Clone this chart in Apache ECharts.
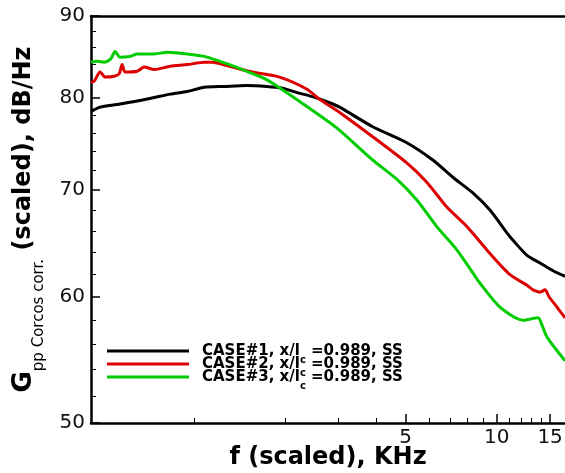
<!DOCTYPE html>
<html>
<head>
<meta charset="utf-8">
<script src="https://cdn.jsdelivr.net/npm/echarts@6/dist/echarts.min.js"></script>
<style>
  html, body { margin: 0; padding: 0; background: #fff; }
  #chart { width: 565px; height: 473px; }
</style>
</head>
<body>
<div id="chart"></div>
<script>
// spectra, f in KHz, level in dB/Hz
var fCase1 = [0.456, 0.489, 0.556, 0.648, 0.738, 0.834, 0.949, 1.08, 1.258, 1.488, 1.733, 1.957, 2.178, 2.461, 2.801, 3.023, 3.889, 5.04, 6.144, 7.156, 8.333, 9.49, 10.8, 11.31, 12.58, 13.89, 15.34, 16.81];
var dbCase1 = [78.4, 78.9, 79.2, 79.6, 80.0, 80.4, 80.7, 81.2, 81.3, 81.4, 81.3, 81.1, 80.6, 80.1, 79.4, 78.9, 76.7, 74.95, 73.1, 71.3, 69.7, 68.0, 65.8, 65.1, 63.7, 63.0, 62.3, 61.8];

var fCase2 = [0.456, 0.467, 0.489, 0.508, 0.544, 0.565, 0.578, 0.591, 0.648, 0.684, 0.738, 0.834, 0.949, 1.08, 1.148, 1.307, 1.557, 1.913, 2.351, 2.596, 3.023, 3.889, 5.04, 5.869, 6.837, 7.962, 9.27, 11.0, 12.58, 13.17, 13.89, 14.43, 14.88, 15.81, 16.81];
var dbCase2 = [81.8, 81.9, 83.0, 82.4, 82.5, 82.8, 83.9, 83.0, 83.1, 83.6, 83.3, 83.7, 83.9, 84.2, 84.2, 83.7, 83.0, 82.4, 81.0, 79.8, 78.3, 75.6, 72.8, 70.8, 68.3, 66.4, 64.2, 62.0, 61.0, 60.6, 60.4, 60.6, 60.0, 59.1, 58.2];

var fCase3 = [0.456, 0.478, 0.504, 0.53, 0.548, 0.569, 0.614, 0.648, 0.738, 0.815, 0.949, 1.08, 1.148, 1.307, 1.488, 1.733, 2.018, 2.351, 2.95, 3.889, 4.67, 5.44, 6.334, 7.377, 8.333, 8.79, 10.24, 12.2, 13.68, 14.1, 14.65, 16.81];
var dbCase3 = [84.2, 84.3, 84.2, 84.6, 85.5, 84.8, 84.9, 85.2, 85.2, 85.4, 85.2, 84.9, 84.6, 83.9, 83.1, 82.1, 80.6, 79.0, 76.6, 73.1, 71.1, 69.0, 66.4, 64.2, 62.1, 61.2, 59.1, 58.0, 58.2, 57.6, 56.6, 54.7];

var seriesNames = ['CASE#1', 'CASE#2', 'CASE#3'];
var seriesColors = ['#000000', '#dd0000', '#00cc00'];

var xRange = [0.456, 16.8];
var yRange = [50, 90];
var xMajorTicks = [5, 10, 15];
var xMinorTicks = [1, 2, 3, 4, 6, 7, 8, 9, 11, 12, 13, 14];
var yMajorTicks = [50, 60, 70, 80, 90];
var yMinorTicks = [52, 54, 56, 58, 62, 64, 66, 68, 72, 74, 76, 78, 82, 84, 86, 88];

function lg(v) { return Math.log10(v); }
function unlg(v) { return String(Math.round(Math.pow(10, v))); }
function pairs(fs, dbs) {
  return fs.map(function (f, i) { return [lg(f), lg(dbs[i])]; });
}

var chart = echarts.init(document.getElementById('chart'));

var labelFont = { fontFamily: 'DejaVu Sans', fontSize: 20, color: '#111' };
var titleFont = { fontFamily: 'DejaVu Sans', fontWeight: 'bold', fontSize: 24, color: '#000' };
var legendFont = { fontFamily: 'DejaVu Sans', fontWeight: 'bold', fontSize: 15, lineHeight: 13, color: '#000', verticalAlign: 'middle' };

var option = {
  animation: false,
  backgroundColor: '#fff',
  grid: { left: 91, right: 0, top: 16, bottom: 50, containLabel: false, outerBoundsMode: 'none' },
  legend: {
    orient: 'vertical',
    left: 107,
    top: 337,
    icon: 'rect',
    itemWidth: 82,
    itemHeight: 3,
    itemGap: -15,
    padding: 0,
    data: seriesNames,
    formatter: function (name) {
      var n = name.replace('CASE#', '');
      return '{h|CASE#' + n + ', x/l}{s|c}{t| =0.989, SS}';
    },
    textStyle: {
      rich: {
        h: Object.assign({ padding: [0, 0, 0, 8] }, legendFont),
        t: legendFont,
        s: { fontFamily: 'DejaVu Sans', fontWeight: 'bold', fontSize: 10, lineHeight: 10, color: '#000', verticalAlign: 'middle', padding: [18, 0, 0, 0] }
      }
    }
  },
  xAxis: [
    {
      type: 'value', min: lg(xRange[0]), max: lg(xRange[1]), position: 'bottom',
      axisLine: { onZero: false, lineStyle: { color: '#000', width: 2.5 } },
      axisTick: { inside: true, length: 9, customValues: xMajorTicks.map(lg), lineStyle: { color: '#000', width: 1.5 } },
      axisLabel: Object.assign({ customValues: xMajorTicks.map(lg), formatter: unlg, margin: 5 }, labelFont),
      splitLine: { show: false },
      name: 'f (scaled), KHz', nameLocation: 'middle', nameGap: 23, nameMoveOverlap: false, nameTextStyle: titleFont
    },
    {
      type: 'value', min: lg(xRange[0]), max: lg(xRange[1]), position: 'bottom',
      axisLine: { show: false, onZero: false },
      axisTick: { inside: true, length: 5, customValues: xMinorTicks.map(lg), lineStyle: { color: '#000', width: 1 } },
      axisLabel: { show: false },
      splitLine: { show: false }
    },
    {
      type: 'value', min: lg(xRange[0]), max: lg(xRange[1]), position: 'top',
      axisLine: { onZero: false, lineStyle: { color: '#000', width: 2.5 } },
      axisTick: { show: false }, axisLabel: { show: false }, splitLine: { show: false }
    }
  ],
  yAxis: [
    {
      type: 'value', min: lg(yRange[0]), max: lg(yRange[1]), position: 'left',
      axisLine: { onZero: false, lineStyle: { color: '#000', width: 2.5 } },
      axisTick: { inside: true, length: 9, customValues: yMajorTicks.map(lg), lineStyle: { color: '#000', width: 1.5 } },
      axisLabel: Object.assign({ customValues: yMajorTicks.map(lg), formatter: unlg, margin: 6 }, labelFont),
      splitLine: { show: false },
      name: '{g|G}{s|pp Corcos corr.}{t| (scaled), dB/Hz}',
      nameLocation: 'middle', nameGap: 44,
      nameTextStyle: {
        rich: {
          g: { fontFamily: 'DejaVu Sans', fontWeight: 'bold', fontSize: 26, lineHeight: 46, color: '#000' },
          s: { fontFamily: 'DejaVu Sans', fontSize: 15, lineHeight: 15, color: '#000', verticalAlign: 'bottom' },
          t: { fontFamily: 'DejaVu Sans', fontWeight: 'bold', fontSize: 24, lineHeight: 46, color: '#000' }
        }
      }
    },
    {
      type: 'value', min: lg(yRange[0]), max: lg(yRange[1]), position: 'left',
      axisLine: { show: false, onZero: false },
      axisTick: { inside: true, length: 5, customValues: yMinorTicks.map(lg), lineStyle: { color: '#000', width: 1 } },
      axisLabel: { show: false },
      splitLine: { show: false }
    }
  ],
  series: [
    { name: seriesNames[0], type: 'line', data: pairs(fCase1, dbCase1), smooth: 0.25, showSymbol: false, color: seriesColors[0], lineStyle: { width: 3 }, z: 3 },
    { name: seriesNames[1], type: 'line', data: pairs(fCase2, dbCase2), smooth: 0.25, showSymbol: false, color: seriesColors[1], lineStyle: { width: 3 }, z: 4 },
    { name: seriesNames[2], type: 'line', data: pairs(fCase3, dbCase3), smooth: 0.25, showSymbol: false, color: seriesColors[2], lineStyle: { width: 3 }, z: 5 }
  ]
};

chart.setOption(option);
</script>
</body>
</html>
